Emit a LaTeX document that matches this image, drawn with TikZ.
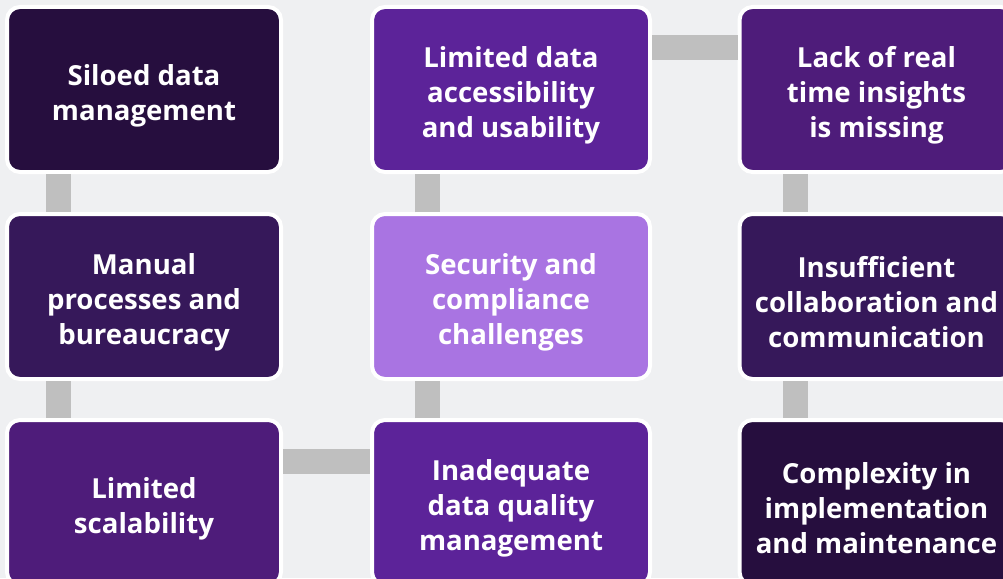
\documentclass[tikz,border=0pt]{standalone}
\usepackage{fontspec}
\setmainfont{Open Sans}
\usetikzlibrary{calc}

\definecolor{bgGrey}{HTML}{EFF0F2}
\definecolor{linkGrey}{HTML}{BFBFBF}
\definecolor{darkest}{HTML}{260E3E}
\definecolor{dark}{HTML}{36185A}
\definecolor{mid}{HTML}{4E1C7A}
\definecolor{violet}{HTML}{5C2399}
\definecolor{lilac}{HTML}{A974E2}

\tikzset{
  box/.style={rectangle, rounded corners=13, draw=white, line width=4,
    minimum width=274, minimum height=165, inner sep=0,
    label={[boxtext]center:#1}},
  boxtext/.style={text=white, align=center, yshift=-6, inner sep=0,
    font=\fontsize{27.6}{35}\selectfont\bfseries},
  link/.style={draw=linkGrey, line width=25}
}

\begin{document}
\begin{tikzpicture}[x=1pt, y=-1pt]
		\fill [bgGrey] (0,0) rectangle (1003,578);
		\useasboundingbox (0,0) rectangle (1003,578);
		\coordinate (top) at (0,47.5);
		\coordinate (bot) at (0,461);
		% first column, top to bottom
		\node [box={Siloed data\\management}, fill=darkest] (a1) at (144,89.5) {};
		\node [box={Manual\\processes and\\bureaucracy}, fill=dark] (a2) at (144,296.5) {};
		\node [box={Limited\\scalability}, fill=mid] (a3) at (144,502.5) {};
		% second column, bottom to top
		\node [box={Inadequate\\data quality\\management}, fill=violet, minimum width=278] (b3) at (511,502.5) {};
		\node [box={Security and\\compliance\\challenges}, fill=lilac, minimum width=278] (b2) at (511,296.5) {};
		\node [box={Limited data\\accessibility\\and usability}, fill=violet, minimum width=278] (b1) at (511,89.5) {};
		% third column, top to bottom
		\node [box={Lack of real\\time insights\\is missing}, fill=mid] (c1) at (876.5,89.5) {};
		\node [box={Insufficient\\collaboration and\\communication}, fill=dark] (c2) at (876.5,296.5) {};
		\node [box={Complexity in\\implementation\\and maintenance}, fill=darkest] (c3) at (876.5,502.5) {};
		% links between the boxes
		\draw [link] ([xshift=53]a1.south west) -- ([xshift=53]a2.north west);
		\draw [link] ([xshift=53]a2.south west) -- ([xshift=53]a3.north west);
		\draw [link] (a3.east |- bot) -- (b3.west |- bot);
		\draw [link] ([xshift=57]b3.north west) -- ([xshift=57]b2.south west);
		\draw [link] ([xshift=57]b2.north west) -- ([xshift=57]b1.south west);
		\draw [link] (b1.east |- top) -- (c1.west |- top);
		\draw [link] ([xshift=57.5]c1.south west) -- ([xshift=57.5]c2.north west);
		\draw [link] ([xshift=57.5]c2.south west) -- ([xshift=57.5]c3.north west);
		\end{tikzpicture}
\end{document}
